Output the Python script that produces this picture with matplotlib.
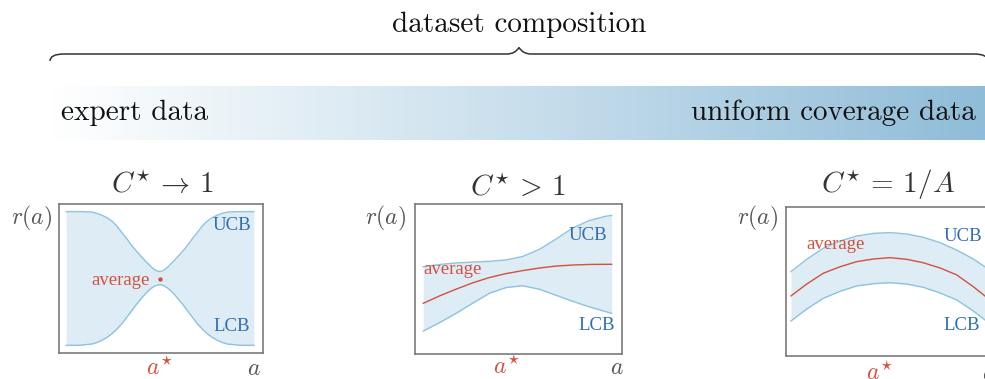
import matplotlib
matplotlib.use("Agg")
import matplotlib.pyplot as plt
import numpy as np
from matplotlib.path import Path
from matplotlib.patches import PathPatch
from matplotlib.colors import LinearSegmentedColormap

plt.rcParams['mathtext.fontset'] = 'cm'

# ---- data (x in [0,1] along a, y in [0,1] along r(a)) ----
p1_x   = [0.035, 0.100, 0.160, 0.185, 0.210, 0.235, 0.260, 0.285, 0.310, 0.335,
          0.360, 0.380, 0.400, 0.420, 0.440, 0.455, 0.470, 0.482, 0.493,
          0.504, 0.516, 0.531, 0.546, 0.566, 0.586, 0.606, 0.626, 0.651,
          0.676, 0.701, 0.726, 0.751, 0.776, 0.801, 0.826, 0.886, 0.955]
p1_ucb = [0.949, 0.949, 0.946, 0.938, 0.925, 0.908, 0.885, 0.850, 0.805, 0.762,
          0.715, 0.683, 0.652, 0.622, 0.595, 0.574, 0.558, 0.550, 0.547,
          0.550, 0.558, 0.574, 0.595, 0.622, 0.652, 0.683, 0.715, 0.762,
          0.805, 0.850, 0.885, 0.908, 0.925, 0.938, 0.946, 0.949, 0.949]
p1_lcb = [0.051, 0.052, 0.060, 0.070, 0.085, 0.105, 0.130, 0.162, 0.200, 0.245,
          0.290, 0.327, 0.360, 0.392, 0.420, 0.437, 0.450, 0.456, 0.458,
          0.456, 0.450, 0.437, 0.420, 0.392, 0.360, 0.327, 0.290, 0.245,
          0.200, 0.162, 0.130, 0.105, 0.085, 0.070, 0.060, 0.052, 0.051]
p1_avg_x = [0.493]
p1_avg   = [0.500]

p2_x   = [0.04, 0.12, 0.20, 0.28, 0.36, 0.44, 0.52, 0.60, 0.68, 0.76, 0.84, 0.92, 0.95]
p2_ucb = [0.582, 0.597, 0.607, 0.613, 0.618, 0.627, 0.650, 0.697, 0.765, 0.838, 0.889, 0.918, 0.924]
p2_lcb = [0.153, 0.210, 0.272, 0.340, 0.405, 0.443, 0.455, 0.432, 0.392, 0.352, 0.315, 0.283, 0.271]
p2_avg = [0.338, 0.388, 0.433, 0.475, 0.510, 0.536, 0.556, 0.573, 0.586, 0.593, 0.597, 0.598, 0.598]

p3_x   = [0.024, 0.10, 0.18, 0.261, 0.341, 0.422, 0.502, 0.583, 0.663, 0.744, 0.825, 0.905, 0.961]
p3_ucb = [0.566, 0.649, 0.723, 0.772, 0.805, 0.823, 0.828, 0.819, 0.797, 0.761, 0.711, 0.651, 0.599]
p3_avg = [0.403, 0.483, 0.555, 0.599, 0.633, 0.651, 0.660, 0.649, 0.626, 0.591, 0.544, 0.465, 0.403]
p3_lcb = [0.235, 0.315, 0.387, 0.434, 0.470, 0.485, 0.492, 0.483, 0.461, 0.423, 0.376, 0.302, 0.242]

titles = [r'$C^{\star}\,\to\,1$', r'$C^{\star}\,>\,1$', r'$C^{\star}\,=\,1/A$']

# colours
fill_c = '#ddecf5'
line_c = '#8dc3e0'
red = '#d4503f'
blue = '#2f6db3'
grey_txt = '#555555'

W, H = 985, 379
fig = plt.figure(figsize=(W / 100, H / 100), dpi=100)

# background axes in pixel coordinates
bg = fig.add_axes([0, 0, 1, 1])
bg.axis('off')

bg.text(519, 31.5, 'dataset composition', fontfamily='cmr10', fontsize=21,
        ha='center', va='baseline', color='#111111')

# curly brace
verts = [(50, 61), (50, 54), (64, 54),
         (507, 54), (515, 54), (519, 47.5), (523, 54), (531, 54),
         (974, 54), (988, 54), (988, 61)]
codes = [Path.MOVETO, Path.CURVE3, Path.CURVE3,
         Path.LINETO, Path.CURVE3, Path.CURVE3, Path.CURVE3, Path.CURVE3,
         Path.LINETO, Path.CURVE3, Path.CURVE3]
bg.add_patch(PathPatch(Path(verts, codes), fill=False, lw=1.1, ec='#333333'))

# gradient bar
cmap = LinearSegmentedColormap.from_list('bar', ['#ffffff', '#c9dfec', '#8fbcd8'])
bg.imshow(np.linspace(0, 1, 512)[None, :], cmap=cmap, aspect='auto',
          extent=[50, 990, 140, 86], zorder=0)
bg.set_xlim(0, W)
bg.set_ylim(H, 0)
bg.text(61, 120, 'expert data', fontfamily='cmr10', fontsize=21,
        ha='left', va='baseline', color='#111111')
bg.text(976, 120, 'uniform coverage data', fontfamily='cmr10', fontsize=21,
        ha='right', va='baseline', color='#111111')

# panel boxes in pixels: left, top, right, bottom
boxes = [(59, 204, 263, 353), (415, 204, 622, 354), (786, 207, 993, 356)]
axes = []
for (l, t, r, b) in boxes:
    ax = fig.add_axes([l / W, 1 - b / H, (r - l) / W, (b - t) / H])
    ax.set_xlim(0, 1)
    ax.set_ylim(0, 1)
    ax.set_xticks([])
    ax.set_yticks([])
    for s in ax.spines.values():
        s.set_color('#7a7a7a')
        s.set_linewidth(1.2)
    axes.append(ax)

serif = 'Liberation Serif'
lab_fs = 13.5

# panel 1
ax = axes[0]
ax.fill_between(p1_x, p1_lcb, p1_ucb, color=fill_c, lw=0)
ax.plot(p1_x, p1_ucb, color=line_c, lw=1.0)
ax.plot(p1_x, p1_lcb, color=line_c, lw=1.0)
ax.plot(p1_avg_x, p1_avg, 'o', color=red, ms=2.2)
ax.text(0.443, 0.484, 'average', color=red, fontfamily=serif, fontsize=lab_fs, ha='right', va='center')
ax.text(0.943, 0.855, 'UCB', color=blue, fontfamily=serif, fontsize=lab_fs, ha='right', va='center')
ax.text(0.938, 0.179, 'LCB', color=blue, fontfamily=serif, fontsize=lab_fs, ha='right', va='center')

# panel 2
ax = axes[1]
ax.fill_between(p2_x, p2_lcb, p2_ucb, color=fill_c, lw=0)
ax.plot(p2_x, p2_ucb, color=line_c, lw=1.0)
ax.plot(p2_x, p2_lcb, color=line_c, lw=1.0)
ax.plot(p2_x, p2_avg, color=red, lw=1.0)
ax.text(0.04, 0.56, 'average', color=red, fontfamily=serif, fontsize=lab_fs, ha='left', va='center')
ax.text(0.93, 0.787, 'UCB', color=blue, fontfamily=serif, fontsize=lab_fs, ha='right', va='center')
ax.text(0.968, 0.189, 'LCB', color=blue, fontfamily=serif, fontsize=lab_fs, ha='right', va='center')

# panel 3
ax = axes[2]
ax.fill_between(p3_x, p3_lcb, p3_ucb, color=fill_c, lw=0)
ax.plot(p3_x, p3_ucb, color=line_c, lw=1.0)
ax.plot(p3_x, p3_lcb, color=line_c, lw=1.0)
ax.plot(p3_x, p3_avg, color=red, lw=1.0)
ax.text(0.10, 0.745, 'average', color=red, fontfamily=serif, fontsize=lab_fs, ha='left', va='center')
ax.text(0.947, 0.805, 'UCB', color=blue, fontfamily=serif, fontsize=lab_fs, ha='right', va='center')
ax.text(0.939, 0.203, 'LCB', color=blue, fontfamily=serif, fontsize=lab_fs, ha='right', va='center')

# titles and axis labels
title_pos = [(0.505, 1.128), (0.498, 1.115), (0.493, 1.148)]
rlab_pos = [(-0.035, 0.906), (-0.045, 0.905), (-0.04, 0.924)]
astar_pos = [(0.495, -0.10), (0.443, -0.085), (0.454, -0.114)]
a_pos = [(0.956, -0.10), (0.974, -0.085), (0.98, -0.114)]
for i, ax in enumerate(axes):
    ax.text(*title_pos[i], titles[i], transform=ax.transAxes, fontsize=21,
            ha='center', va='center', color='#333333', clip_on=False)
    ax.text(*rlab_pos[i], r'$r(a)$', transform=ax.transAxes, fontsize=17,
            ha='right', va='center', color=grey_txt, clip_on=False)
    ax.text(*astar_pos[i], r'$a^{\star}$', transform=ax.transAxes, fontsize=17,
            ha='center', va='center', color=red, clip_on=False)
    ax.text(*a_pos[i], r'$a$', transform=ax.transAxes, fontsize=17,
            ha='center', va='center', color=grey_txt, clip_on=False)

fig.savefig('out.png', dpi=100)
